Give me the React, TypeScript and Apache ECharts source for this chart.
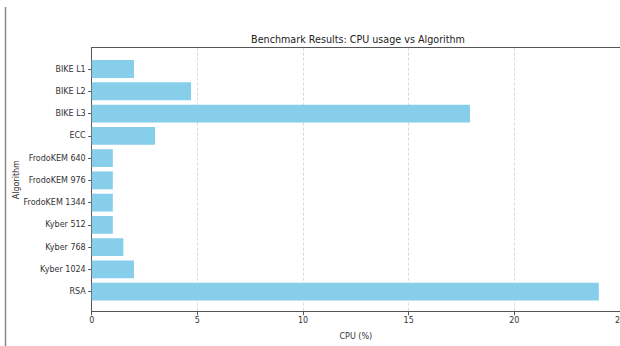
import React, { useEffect, useRef } from "react";
import * as echarts from "echarts";

const categories = [
  "BIKE L1",
  "BIKE L2",
  "BIKE L3",
  "ECC",
  "FrodoKEM 640",
  "FrodoKEM 976",
  "FrodoKEM 1344",
  "Kyber 512",
  "Kyber 768",
  "Kyber 1024",
  "RSA",
];
const cpuValues = [2.0, 4.7, 17.9, 3.0, 1.0, 1.0, 1.0, 1.0, 1.5, 2.0, 24.0];
const xTicks = { min: 0, max: 25, interval: 5 };

const FONT = "DejaVu Sans";
const TXT = "#333";

export default function App() {
  const ref = useRef<HTMLDivElement>(null);
  useEffect(() => {
    if (!ref.current) return;
    const chart = echarts.init(ref.current, undefined, { renderer: "svg" });
    const plotLeft = 91.7;
    const frameTop = 47.7;
    const frameBottom = 346 - 311.7;
    const band = 22.27;
    const barTop = 69 - band / 2;
    chart.setOption({
      animation: false,
      backgroundColor: "#fff",
      graphic: [
        {
          type: "line",
          shape: { x1: 5.5, y1: 7, x2: 5.5, y2: 346 },
          style: { stroke: "#888", lineWidth: 1.5 },
        },
        {
          type: "text",
          x: 358,
          y: 39,
          style: {
            text: "Benchmark Results: CPU usage vs Algorithm",
            font: `9.6px '${FONT}'`,
            fill: "#222",
            textAlign: "center",
            textVerticalAlign: "middle",
          },
        },
      ],
      grid: [
        { left: plotLeft, right: 0, top: frameTop, bottom: frameBottom, containLabel: false, outerBoundsMode: "none" },
        { left: plotLeft, right: 0, top: barTop, height: band * categories.length, containLabel: false, outerBoundsMode: "none" },
      ],
      xAxis: [
        {
          gridIndex: 0,
          type: "value",
          min: xTicks.min,
          max: xTicks.max,
          interval: xTicks.interval,
          axisLine: { show: true, onZero: false, lineStyle: { color: "#555", width: 1 } },
          axisTick: { show: true, length: 3.5, lineStyle: { color: "#555" } },
          axisLabel: { fontFamily: FONT, fontSize: 8, color: TXT, margin: 5 },
          splitLine: { show: true, lineStyle: { type: [3, 2], color: "#d0d0d0", width: 0.8 } },
          name: "CPU (%)",
          nameLocation: "middle",
          nameGap: 21,
          nameTextStyle: { fontFamily: FONT, fontSize: 8, color: TXT },
        },
        {
          gridIndex: 0,
          type: "value",
          position: "top",
          min: xTicks.min,
          max: xTicks.max,
          axisLine: { show: true, onZero: false, lineStyle: { color: "#555", width: 1 } },
          axisTick: { show: false },
          axisLabel: { show: false },
          splitLine: { show: false },
        },
        {
          gridIndex: 1,
          type: "value",
          min: xTicks.min,
          max: xTicks.max,
          show: false,
        },
      ],
      yAxis: [
        {
          gridIndex: 0,
          type: "value",
          min: 0,
          max: 1,
          axisLine: { show: true, onZero: false, lineStyle: { color: "#555", width: 1 } },
          axisTick: { show: false },
          axisLabel: { show: false },
          splitLine: { show: false },
          name: "Algorithm",
          nameLocation: "middle",
          nameGap: 71,
          nameRotate: 90,
          nameTextStyle: { fontFamily: FONT, fontSize: 8, color: TXT },
        },
        {
          gridIndex: 0,
          type: "value",
          position: "right",
          min: 0,
          max: 1,
          axisLine: { show: true, onZero: false, lineStyle: { color: "#ddd", width: 1 } },
          axisTick: { show: false },
          axisLabel: { show: false },
          splitLine: { show: false },
        },
        {
          gridIndex: 1,
          type: "category",
          inverse: true,
          data: categories,
          axisLine: { show: false },
          axisTick: { show: true, alignWithLabel: true, length: 3.5, lineStyle: { color: "#555" } },
          axisLabel: { fontFamily: FONT, fontSize: 8, color: TXT, margin: 6 },
          splitLine: { show: false },
        },
      ],
      series: [
        {
          type: "bar",
          xAxisIndex: 2,
          yAxisIndex: 2,
          data: cpuValues,
          barCategoryGap: "20%",
          itemStyle: { color: "#87CEEB" },
        },
      ],
    });
    return () => chart.dispose();
  }, []);
  return (
    <div
      ref={ref}
      style={{ position: "fixed", left: 0, top: 0, width: 620, height: 346 }}
    />
  );
}
